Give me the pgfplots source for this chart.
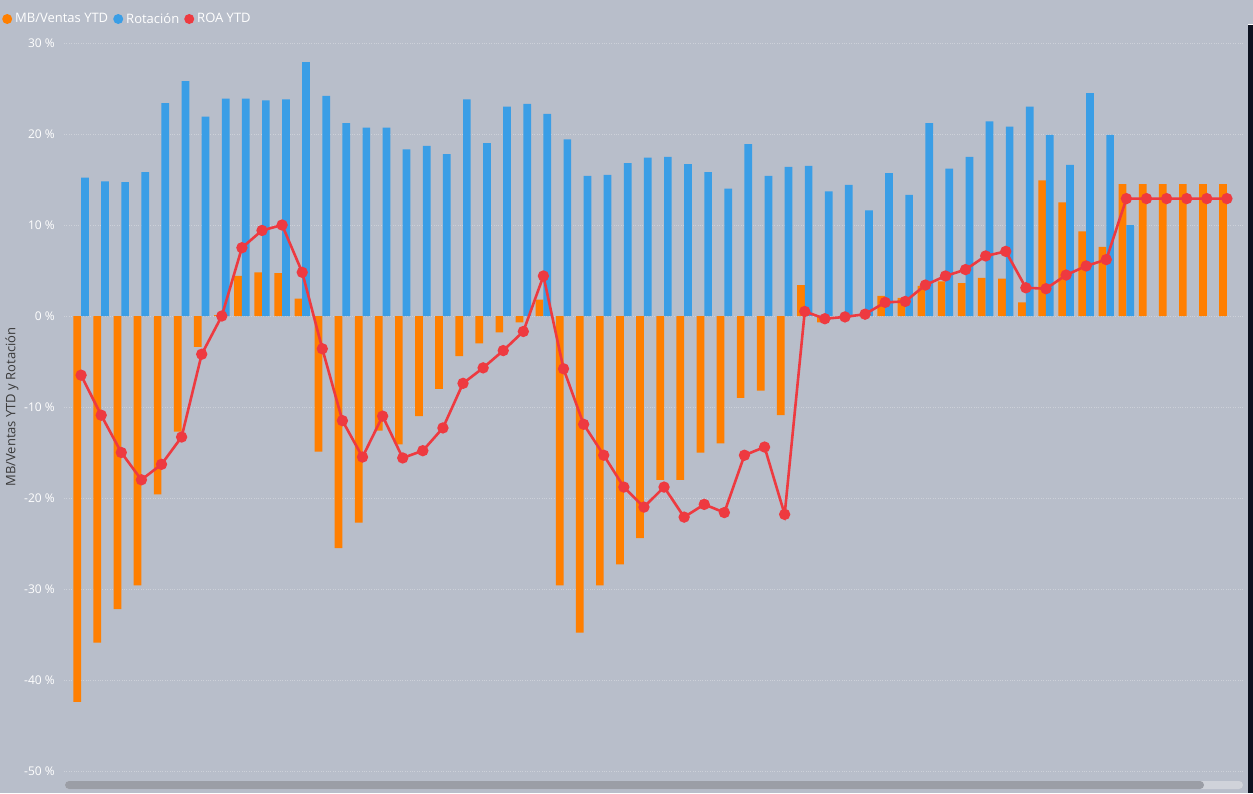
\documentclass[border=0pt]{standalone}
\usepackage{fontspec}
\setmainfont{Open Sans}
\usepackage{pgfplots}
\usepackage{pgfplotstable}
\pgfplotsset{compat=1.18}
\definecolor{bg}{HTML}{B8BECA}
\definecolor{orangeC}{HTML}{FF7F00}
\definecolor{blueC}{HTML}{3A9EE6}
\definecolor{redC}{HTML}{EE3A40}
\definecolor{gridC}{HTML}{CDD1D9}
\definecolor{titleC}{HTML}{3A3A3A}
\definecolor{scrollC}{HTML}{9B9EA6}
\definecolor{trackC}{HTML}{D0D3DA}
\definecolor{edgeC}{HTML}{0D1220}
\pgfplotstableread{
x mb rot roa
0 -42.4 15.2 -6.5
1 -35.9 14.8 -10.9
2 -32.2 14.7 -15.0
3 -29.6 15.8 -18.0
4 -19.6 23.4 -16.3
5 -12.7 25.8 -13.3
6 -3.4 21.9 -4.2
7 0.1 23.9 0.0
8 4.4 23.9 7.5
9 4.8 23.7 9.4
10 4.7 23.8 10.0
11 1.9 27.9 4.8
12 -14.9 24.2 -3.6
13 -25.5 21.2 -11.5
14 -22.7 20.7 -15.5
15 -12.6 20.7 -11.0
16 -14.1 18.3 -15.6
17 -11.0 18.7 -14.8
18 -8.0 17.8 -12.3
19 -4.4 23.8 -7.4
20 -3.0 19.0 -5.7
21 -1.8 23.0 -3.8
22 -0.7 23.3 -1.7
23 1.8 22.2 4.4
24 -29.6 19.4 -5.8
25 -34.8 15.4 -11.9
26 -29.6 15.5 -15.3
27 -27.3 16.8 -18.8
28 -24.4 17.4 -21.0
29 -18.0 17.5 -18.8
30 -18.0 16.7 -22.1
31 -15.0 15.8 -20.7
32 -14.0 14.0 -21.6
33 -9.0 18.9 -15.3
34 -8.2 15.4 -14.4
35 -10.9 16.4 -21.8
36 3.4 16.5 0.5
37 -0.7 13.7 -0.3
38 0.0 14.4 -0.1
39 0.0 11.6 0.2
40 2.2 15.7 1.5
41 2.0 13.3 1.6
42 3.3 21.2 3.4
43 3.8 16.2 4.4
44 3.6 17.5 5.1
45 4.2 21.4 6.6
46 4.1 20.8 7.1
47 1.5 23.0 3.1
48 14.9 19.9 3.0
49 12.5 16.6 4.5
50 9.3 24.5 5.5
51 7.6 19.9 6.2
52 14.5 10.0 12.9
53 14.5 nan 12.9
54 14.5 nan 12.9
55 14.5 nan 12.9
56 14.5 nan 12.9
57 14.5 nan 12.9
}\datatable
\begin{document}
\begin{tikzpicture}
\fill[bg] (0,0) rectangle (1253pt,793pt);
\path[use as bounding box] (0,0) rectangle (1253pt,793pt);
\begin{axis}[
  at={(64pt,22pt)}, anchor=south west,
  scale only axis, width=1179pt, height=728pt,
  xmin=-0.85, xmax=57.8, ymin=-50, ymax=30,
  axis line style={draw=none},
  xtick=\empty,
  ytick={-50,-40,-30,-20,-10,0,10,20,30},
  yticklabels={-50 \%,-40 \%,-30 \%,-20 \%,-10 \%,0 \%,10 \%,20 \%,30 \%},
  ymajorgrids,
  major grid style={dotted, gridC, line width=0.9pt},
  major tick length=0pt,
  yticklabel style={font=\fontsize{12}{14}\selectfont, text=white, inner sep=0pt, anchor=east, xshift=-9pt},
  ylabel={MB/Ventas YTD y Rotación},
  every axis y label/.style={at={(rel axis cs:0,0.5)}, rotate=90, anchor=center, yshift=52pt, font=\fontsize{13}{15}\selectfont, text=titleC},
  legend columns=-1,
  legend style={at={(rel axis cs:0,1)}, anchor=west, xshift=-62pt, yshift=24pt,
    draw=none, fill=none, font=\fontsize{13}{15}\selectfont, text=white,
    inner sep=0pt, column sep=1pt,
    /tikz/every even column/.append style={column sep=3pt}},
  clip=false,
]
\addplot[ybar, bar width=7.7pt, bar shift=-3.85pt, fill=orangeC, draw=none,
  legend image code/.code={\node[circle, fill=orangeC, inner sep=0pt, minimum size=10pt] at (3pt,0pt) {};}]
  table[x=x, y=mb] {\datatable};
\addlegendentry{MB/Ventas YTD}
\addplot[ybar, bar width=7.7pt, bar shift=3.85pt, fill=blueC, draw=none,
  legend image code/.code={\node[circle, fill=blueC, inner sep=0pt, minimum size=10pt] at (3pt,0pt) {};}]
  table[x=x, y=rot] {\datatable};
\addlegendentry{Rotación}
\addplot[sharp plot, redC, line width=2.6pt, mark=*, mark size=4.3pt, mark options={fill=redC, draw=none},
  legend image code/.code={\node[circle, fill=redC, inner sep=0pt, minimum size=10pt] at (3pt,0pt) {};}]
  table[x=x, y=roa] {\datatable};
\addlegendentry{ROA YTD}
\end{axis}
\fill[trackC, rounded corners=4pt] (65pt,4pt) rectangle (1243pt,12pt);
\fill[scrollC, rounded corners=4pt] (65pt,4pt) rectangle (1204pt,12pt);
\fill[edgeC] (1248pt,0pt) rectangle (1253pt,768pt);
\fill[white] (1248pt,768pt) rectangle (1253pt,769pt);
\end{tikzpicture}
\end{document}
